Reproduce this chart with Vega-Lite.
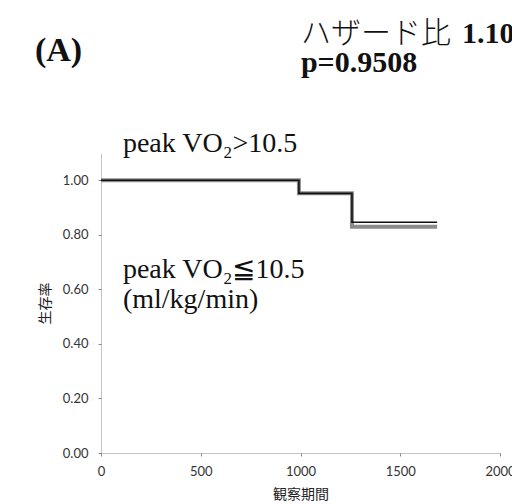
{
  "$schema": "https://vega.github.io/schema/vega-lite/v6.json",
  "autosize": "none",
  "width": 399,
  "height": 300,
  "padding": {"left": 101, "top": 153, "right": 12, "bottom": 51},
  "background": "white",
  "config": {"view": {"stroke": null}},
  "datasets": {
    "curves": [
      {"group": "le", "day": 0, "surv": 1.0},
      {"group": "le", "day": 992, "surv": 0.952},
      {"group": "le", "day": 1258, "surv": 0.83},
      {"group": "le", "day": 1685, "surv": 0.83},
      {"group": "gt", "day": 0, "surv": 1.0},
      {"group": "gt", "day": 992, "surv": 0.952},
      {"group": "gt", "day": 1258, "surv": 0.846},
      {"group": "gt", "day": 1685, "surv": 0.846}
    ],
    "notes": [
      {"kind": "A", "label": "(A)", "x": -331, "y": 1.437},
      {"kind": "hz", "label": "ハザード比", "x": 1002, "y": 1.503},
      {"kind": "hzv", "label": "1.10", "x": 1810, "y": 1.503},
      {"kind": "p", "label": "p=0.9508", "x": 1002, "y": 1.397},
      {"kind": "lab", "label": "peak VO₂>10.5", "x": 110, "y": 1.104},
      {"kind": "lab", "label": "peak VO₂≦10.5", "x": 110, "y": 0.642},
      {"kind": "lab", "label": "(ml/kg/min)", "x": 110, "y": 0.532}
    ]
  },
  "layer": [
    {
      "data": {"name": "curves"},
      "transform": [{"filter": "datum.group === 'le'"}],
      "mark": {"type": "line", "interpolate": "step-after", "color": "#8c8c8c", "strokeWidth": 4},
      "encoding": {
        "x": {"field": "day", "type": "quantitative",
          "scale": {"domain": [0, 2000], "nice": false},
          "axis": {"values": [0, 500, 1000, 1500, 2000], "format": "d", "title": "観察期間",
            "grid": false, "domainColor": "#888", "domainDash": [1, 1], "domainWidth": 1,
            "tickColor": "#888", "tickSize": 3, "labelFont": "Lato", "labelFontSize": 13,
            "labelColor": "#333", "labelPadding": 9, "labelFlush": false, "labelOverlap": false, "labelBound": false,
            "titleFont": "Noto Sans CJK JP", "titleFontSize": 14, "titleFontWeight": "normal",
            "titleColor": "#222", "titlePadding": 9}},
        "y": {"field": "surv", "type": "quantitative",
          "scale": {"domain": [0, 1.1], "nice": false},
          "axis": {"values": [0, 0.2, 0.4, 0.6, 0.8, 1.0], "format": ".2f", "title": "生存率",
            "grid": false, "domainColor": "#888", "domainDash": [1, 1], "domainWidth": 1,
            "tickColor": "#888", "tickSize": 3, "labelFont": "Lato", "labelFontSize": 13,
            "labelColor": "#333", "labelPadding": 10,
            "titleFont": "Noto Sans CJK JP", "titleFontSize": 14, "titleFontWeight": "normal",
            "titleColor": "#222", "titlePadding": 10}}
      }
    },
    {
      "data": {"name": "curves"},
      "transform": [{"filter": "datum.group === 'gt'"}],
      "mark": {"type": "line", "interpolate": "step-after", "color": "#111", "strokeWidth": 1.6},
      "encoding": {
        "x": {"field": "day", "type": "quantitative"},
        "y": {"field": "surv", "type": "quantitative"}
      }
    },
    {
      "data": {"name": "notes"},
      "transform": [{"filter": "datum.kind === 'A'"}],
      "mark": {"type": "text", "align": "left", "baseline": "alphabetic", "font": "Liberation Serif", "fontWeight": "bold", "fontSize": 34, "color": "#111"},
      "encoding": {"x": {"field": "x", "type": "quantitative"}, "y": {"field": "y", "type": "quantitative"}, "text": {"field": "label"}}
    },
    {
      "data": {"name": "notes"},
      "transform": [{"filter": "datum.kind === 'hz'"}],
      "mark": {"type": "text", "align": "left", "baseline": "alphabetic", "font": "Noto Sans CJK JP", "fontWeight": 300, "fontSize": 30, "color": "#111"},
      "encoding": {"x": {"field": "x", "type": "quantitative"}, "y": {"field": "y", "type": "quantitative"}, "text": {"field": "label"}}
    },
    {
      "data": {"name": "notes"},
      "transform": [{"filter": "datum.kind === 'hzv' || datum.kind === 'p'"}],
      "mark": {"type": "text", "align": "left", "baseline": "alphabetic", "font": "Liberation Serif", "fontWeight": "bold", "fontSize": 30, "color": "#111"},
      "encoding": {"x": {"field": "x", "type": "quantitative"}, "y": {"field": "y", "type": "quantitative"}, "text": {"field": "label"}}
    },
    {
      "data": {"name": "notes"},
      "transform": [{"filter": "datum.kind === 'lab'"}],
      "mark": {"type": "text", "align": "left", "baseline": "alphabetic", "font": "Liberation Serif", "fontSize": 28, "color": "#111"},
      "encoding": {"x": {"field": "x", "type": "quantitative"}, "y": {"field": "y", "type": "quantitative"}, "text": {"field": "label"}}
    }
  ]
}
